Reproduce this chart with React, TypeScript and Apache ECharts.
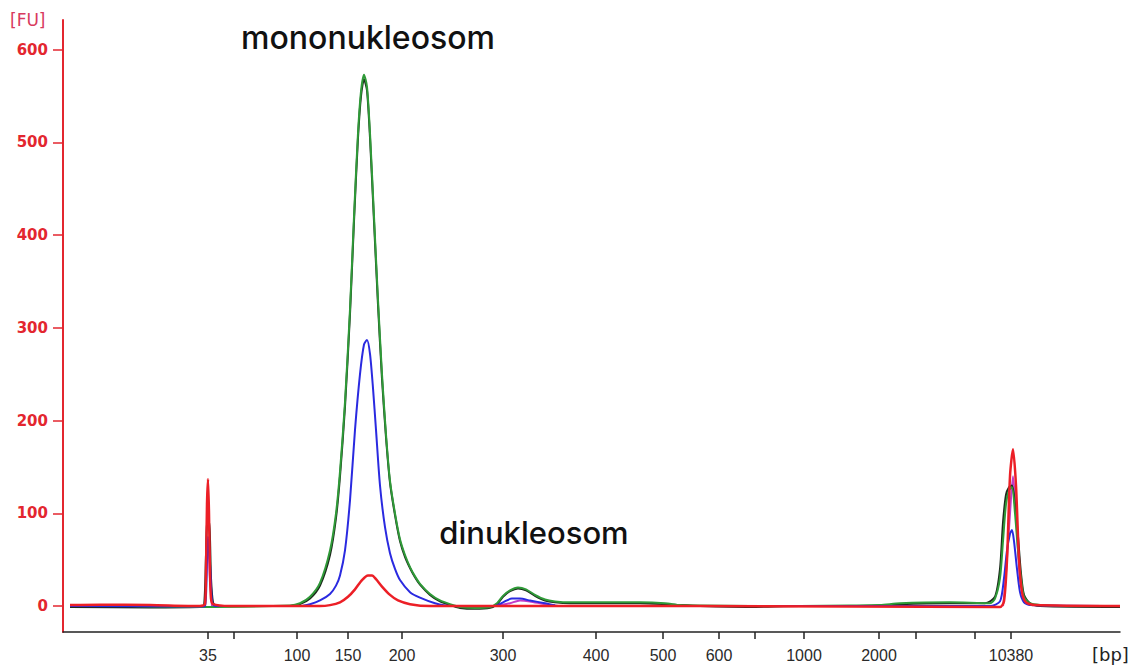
import { useEffect, useRef } from "react";
import * as echarts from "echarts";

// x = migration position (arbitrary units, linear along the run), y = fluorescence [FU]
const tickPositions = [208, 234, 297, 348, 402, 503, 596, 663, 719, 755, 804, 879, 916, 975, 1011];
const tickLabels = ["35", "", "100", "150", "200", "300", "400", "500", "600", "", "1000", "2000", "", "", "10380"];
const yTicks = [0, 100, 200, 300, 400, 500, 600];

const blackX = [70, 150, 200, 204, 206, 207, 209, 210, 211, 213, 216, 290, 300, 310, 320, 330, 336, 340, 345, 350, 354, 358, 361, 364, 367, 370, 374, 378, 382, 386, 390, 395, 400, 405, 410, 415, 420, 430, 440, 450, 460, 475, 490, 497, 503, 510, 518, 526, 535, 545, 555, 570, 600, 640, 665, 680, 700, 750, 800, 850, 880, 900, 950, 985, 995, 1000, 1003, 1006, 1009, 1012, 1015, 1018, 1021, 1024, 1030, 1040, 1120];
const blackY = [-1, -1.5, -1, 0, 55, 88, 92, 72, 30, 4, 0, 0, 2, 8, 22, 55, 95, 140, 215, 315, 415, 505, 550, 568, 556, 505, 415, 325, 245, 182, 133, 98, 70, 53, 41, 31, 23, 12, 5, 1, -2, -3, -2, 2, 10, 16, 19, 17, 11, 6, 4, 3, 3, 3, 2, 1, 0, -1, 0, 0, 0.5, 2, 3, 3, 10, 40, 90, 120, 128, 130, 110, 75, 35, 12, 3, 0, -1];

const greenX = [70, 100, 150, 200, 290, 300, 310, 320, 330, 336, 340, 345, 350, 354, 358, 361, 364, 367, 370, 374, 378, 382, 386, 390, 395, 400, 405, 410, 415, 420, 430, 440, 450, 460, 475, 490, 497, 503, 510, 518, 526, 535, 545, 555, 570, 600, 640, 665, 680, 700, 750, 800, 850, 880, 900, 950, 990, 995, 1000, 1003, 1006, 1009, 1012, 1015, 1018, 1021, 1024, 1030, 1040, 1060, 1120];
const greenY = [0, 0.5, -0.5, -1, 0.5, 3, 10, 25, 60, 100, 145, 220, 320, 420, 510, 555, 573, 560, 510, 420, 330, 250, 185, 135, 100, 72, 55, 42, 32, 24, 13, 6, 2, -1, -2, -1, 3, 11, 17, 20, 18, 12, 7, 5, 4, 4, 4, 3, 1, 0.5, 0, 0, 0.5, 1, 3, 4, 3, 8, 30, 70, 110, 125, 128, 100, 60, 30, 10, 3, 1, 0, 0];

// magenta trace is only visible in short stretches (null = gap)
const magentaX = [205, 207, 208, 210, 212, 213, 500, 510, 520, 530, 545, 555, 556, 1003, 1005, 1010, 1013, 1016, 1020, 1025];
const magentaY = [0, 50, 70, 30, 0, null, 1, 3, 6, 5, 2, 1, null, 0, 20, 100, 140, 100, 30, 3];

const blueX = [70, 200, 205, 207, 208, 210, 212, 215, 300, 310, 320, 330, 336, 340, 345, 350, 355, 360, 364, 367, 370, 373, 376, 380, 385, 390, 395, 400, 410, 420, 435, 450, 495, 503, 512, 520, 530, 545, 560, 700, 880, 990, 1000, 1004, 1007, 1010, 1012, 1014, 1017, 1020, 1024, 1030, 1120];
const blueY = [0, -0.5, 0, 50, 75, 45, 5, 0, 0, 2, 6, 13, 22, 33, 60, 114, 190, 250, 282, 287, 272, 235, 190, 130, 85, 57, 40, 28, 15, 9, 3, 0, 0, 4, 8, 8, 6, 3, 0, 0, 0, 0, 5, 30, 60, 78, 82, 70, 40, 15, 4, 1, 0];

const redX = [70, 100, 150, 200, 205, 206, 207, 208, 209, 210, 211, 213, 230, 300, 320, 330, 340, 348, 355, 362, 368, 372, 376, 382, 390, 398, 410, 430, 500, 700, 1000, 1004, 1007, 1010, 1013, 1016, 1019, 1022, 1026, 1035, 1120];
const redY = [1, 1.5, 1, 0, 2, 40, 110, 137, 100, 35, 8, 2, 0, 0, 0, 1, 4, 10, 18, 28, 33, 33, 29, 21, 12, 6, 2, 0, 0, 0, -1, 5, 50, 140, 169, 130, 50, 15, 4, 1, 0];

const zip = (xs: number[], ys: (number | null)[]) => xs.map((x, i) => [x, ys[i] === null ? "-" : ys[i]]);

const RED_AXIS = "#e3262f";

export default function App() {
  const ref = useRef<HTMLDivElement>(null);
  useEffect(() => {
    if (!ref.current) return;
    const chart = echarts.init(ref.current, undefined, { renderer: "svg" });
    const labeled = tickPositions.filter((_, i) => tickLabels[i] !== "");
    const mkSeries = (name: string, color: string, xs: number[], ys: (number | null)[], width = 2) => ({
      name,
      type: "line",
      data: zip(xs, ys),
      symbol: "none",
      smooth: 0.25,
      connectNulls: false,
      lineStyle: { color, width },
      z: 2,
    });
    chart.setOption({
      animation: false,
      backgroundColor: "#ffffff",
      grid: { left: 63, right: 20, top: 20, bottom: 34 },
      xAxis: {
        type: "value",
        min: 63,
        max: 1120,
        axisLine: { show: true, onZero: false, lineStyle: { color: "#222", width: 1.5 } },
        axisTick: {
          show: true,
          customValues: tickPositions,
          length: 7,
          lineStyle: { color: "#222", width: 1.5 },
        },
        axisLabel: {
          customValues: labeled,
          formatter: (v: number) => tickLabels[tickPositions.indexOf(v)] ?? "",
          color: "#2a2a2a",
          fontSize: 16,
          fontFamily: "Liberation Sans",
          margin: 15,
        },
        splitLine: { show: false },
      },
      yAxis: {
        type: "value",
        min: -28,
        max: 632,
        axisLine: { show: true, lineStyle: { color: RED_AXIS, width: 2 } },
        axisTick: {
          show: true,
          customValues: yTicks,
          length: 10,
          lineStyle: { color: RED_AXIS, width: 1.5 },
        },
        axisLabel: {
          customValues: yTicks,
          color: RED_AXIS,
          fontSize: 15,
          fontWeight: "bold",
          fontFamily: "DejaVu Sans",
          margin: 15,
        },
        splitLine: { show: false },
      },
      series: [
        mkSeries("magenta", "#c23cc8", magentaX, magentaY),
        mkSeries("dark", "#1c2a1c", blackX, blackY),
        mkSeries("green", "#2f9a38", greenX, greenY),
        mkSeries("blue", "#2a2ae0", blueX, blueY),
        mkSeries("red", "#ec1f26", redX, redY, 2.5),
      ],
      graphic: [
        {
          type: "text",
          left: 10,
          top: 11,
          style: { text: "[FU]", fill: "#d83a5e", fontSize: 17, fontFamily: "DejaVu Sans" },
        },
        {
          type: "text",
          left: 1092,
          top: 645,
          style: { text: "[bp]", fill: "#222", fontSize: 18, fontFamily: "DejaVu Sans" },
        },
        {
          type: "text",
          x: 368,
          y: 37,
          style: {
            text: "mononukleosom",
            fill: "#111",
            fontSize: 32,
            fontWeight: 500,
            fontFamily: "Inter",
            align: "center",
            verticalAlign: "middle",
          },
        },
        {
          type: "text",
          x: 534,
          y: 532,
          style: {
            text: "dinukleosom",
            fill: "#111",
            fontSize: 31,
            fontWeight: 500,
            fontFamily: "Inter",
            align: "center",
            verticalAlign: "middle",
          },
        },
      ],
    });
    return () => chart.dispose();
  }, []);
  return (
    <div
      ref={ref}
      style={{ position: "absolute", left: 0, top: 0, width: 1140, height: 666, background: "#fff" }}
    />
  );
}
